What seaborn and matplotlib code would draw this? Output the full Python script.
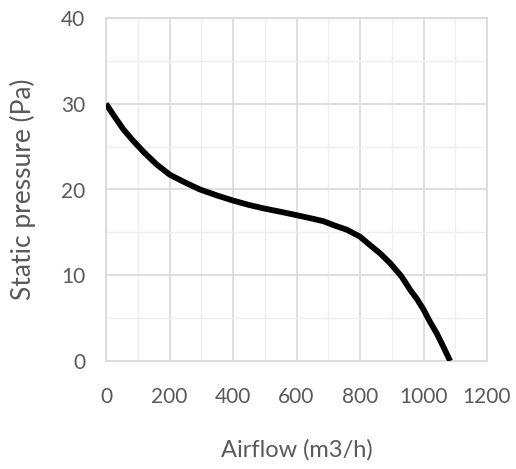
import numpy as np
import pandas as pd
import matplotlib
matplotlib.use("Agg")
import matplotlib.pyplot as plt
import seaborn as sns
from matplotlib.ticker import MultipleLocator

# fan curve
airflow = [0, 25, 55, 85, 118, 160, 202, 250, 296, 350, 401, 450, 496, 550, 601,
           650, 685, 720, 759, 800, 832, 865, 895, 930, 958, 980, 1000, 1020, 1042, 1062, 1084]
pressure = [30.0, 28.6, 27.0, 25.7, 24.4, 22.9, 21.7, 20.8, 20.0, 19.3, 18.7, 18.2, 17.8, 17.4, 17.0,
            16.6, 16.3, 15.8, 15.3, 14.5, 13.5, 12.5, 11.4, 9.9, 8.3, 7.2, 6.0, 4.6, 3.2, 1.7, 0.0]

df = pd.DataFrame({"Airflow": airflow, "Pressure": pressure})

sns.set_style("white")
plt.rcParams["font.family"] = ["Lato", "DejaVu Sans"]
text_col = "#595959"

fig = plt.figure(figsize=(5.16, 4.69), dpi=100)
ax = fig.add_axes([106 / 516, 1 - 361 / 469, 381 / 516, 343 / 469])

ax.set_xlim(0, 1200)
ax.set_ylim(0, 40)
ax.xaxis.set_major_locator(MultipleLocator(200))
ax.xaxis.set_minor_locator(MultipleLocator(100))
ax.yaxis.set_major_locator(MultipleLocator(10))
ax.yaxis.set_minor_locator(MultipleLocator(5))
ax.grid(which="major", color="#d9d9d9", linewidth=1.2)
ax.grid(which="minor", color="#eeeeee", linewidth=1.0)
ax.set_axisbelow(True)

sns.lineplot(data=df, x="Airflow", y="Pressure", ax=ax, color="black",
             linewidth=4.2, solid_capstyle="butt", zorder=3)

for s in ax.spines.values():
    s.set_color("#d9d9d9")
    s.set_linewidth(1.2)

ax.tick_params(which="both", length=0, labelsize=15, colors=text_col)
ax.tick_params(axis="x", pad=19)
ax.tick_params(axis="y", pad=15)

ax.set_xlabel("Airflow (m3/h)", fontsize=17, color=text_col, labelpad=23)
ax.set_ylabel("Static pressure (Pa)", fontsize=19, color=text_col, labelpad=18)

fig.savefig("out.png", dpi=100)
